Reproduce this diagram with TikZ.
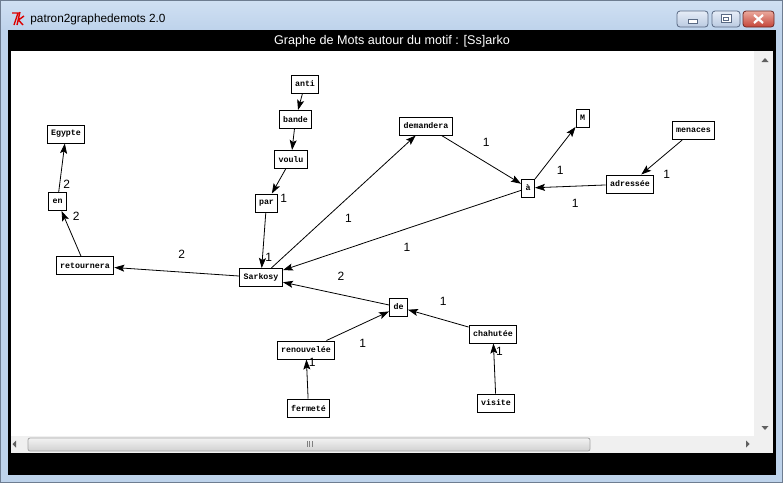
\documentclass[tikz,border=0pt]{standalone}
\usepackage{fontspec}
\setmainfont{Liberation Sans}
\newfontfamily\motfont{Liberation Mono}
\usetikzlibrary{arrows.meta}

\definecolor{cadre}{RGB}{190,211,235}
\definecolor{cadrehaut}{RGB}{208,224,243}
\definecolor{cadrebord}{RGB}{110,125,145}
\definecolor{barre}{RGB}{240,240,240}
\definecolor{flechebarre}{RGB}{96,96,96}
\definecolor{boutonhaut}{RGB}{230,237,247}
\definecolor{boutonbas}{RGB}{186,202,225}
\definecolor{boutonbord}{RGB}{90,106,132}
\definecolor{fermerhaut}{RGB}{235,170,158}
\definecolor{fermerbas}{RGB}{196,68,56}
\definecolor{fermerbord}{RGB}{110,40,36}
\definecolor{tkrouge}{RGB}{220,0,0}

\begin{document}
\begin{tikzpicture}
    [x=1pt, y=-1pt, >={Stealth[length=10pt, width=7pt, inset=2pt]}, line width=0.8pt,
     mot/.style={shape=rectangle, draw=black, fill=white, line width=1pt,
                 font=\motfont\bfseries\fontsize{8.3}{10}\selectfont,
                 inner xsep=4pt, inner ysep=0pt, minimum height=18pt},
     poids/.style={font=\fontsize{12}{14}\selectfont, inner sep=0pt},
     haut/.style={poids, xshift=5pt, yshift=17pt},
     bas/.style={poids, xshift=5pt, yshift=-17pt}]
    \useasboundingbox (0,0) rectangle (783,483);

    % fenetre
    \fill[cadre] (0,0) rectangle (783,483);
    \shade[top color=cadrehaut, bottom color=cadre] (0,0) rectangle (783,30);
    \draw[cadrebord, line width=1pt] (0.5,0.5) rectangle (782.5,482.5);
    \fill[black] (8,30) rectangle (776,475);
    \fill[barre] (11,51) rectangle (773,453);
    \fill[white] (11,51) rectangle (754,436);

    % barre de titre
    \draw[tkrouge, line width=1.4pt] (12,13) -- (18,13) -- (14,25)
        (20,12) -- (17,25) (24,16) -- (18.5,20) -- (23,25);
    \node[anchor=west, font=\fontsize{11.8}{14}\selectfont, inner sep=0pt] (titre) at (30,19) {patron2graphedemots 2.0};
    \draw[boutonbord, top color=boutonhaut, bottom color=boutonbas, rounded corners=3pt] (677,11) rectangle (708,27);
    \draw[boutonbord, fill=white] (688,19.5) rectangle (697,23);
    \draw[boutonbord, top color=boutonhaut, bottom color=boutonbas, rounded corners=3pt] (712,11) rectangle (740,27);
    \draw[boutonbord, fill=white] (721,14.5) rectangle (731,22.5);
    \draw[boutonbord] (723.5,17.5) rectangle (728.5,20);
    \draw[fermerbord, top color=fermerhaut, bottom color=fermerbas, rounded corners=3pt] (743,11) rectangle (774,27);
    \draw[white, line width=2.2pt] (754,15) -- (763,23) (763,15) -- (754,23);

    \node[text=white, font=\fontsize{12.6}{15}\selectfont, inner sep=0pt] (entete) at (392,41) {Graphe de Mots autour du motif : [Ss]arko};

    % barres de defilement
    \fill[flechebarre] (761.5,62) -- (768.5,62) -- (765,58) -- cycle;
    \fill[flechebarre] (761.5,426) -- (768.5,426) -- (765,430) -- cycle;
    \fill[flechebarre] (16,440.5) -- (16,447.5) -- (12.5,444) -- cycle;
    \fill[flechebarre] (746,440.5) -- (746,447.5) -- (749.5,444) -- cycle;
    \draw[gray!70, top color=white!95!black, bottom color=white!82!black, rounded corners=2pt] (28,438) rectangle (590,451);
    \draw[gray] (307,441) -- (307,447) (309.5,441) -- (309.5,447) (312,441) -- (312,447);

    % mots
    \node[mot] (anti) at (305,84) {anti};
    \node[mot] (bande) at (295.5,119.5) {bande};
    \node[mot] (voulu) at (291,159.5) {voulu};
    \node[mot] (par) at (266.5,203) {par};
    \node[mot] (sarkosy) at (261,277.5) {Sarkosy};
    \node[mot] (retournera) at (85,265.5) {retournera};
    \node[mot] (en) at (57.5,201.5) {en};
    \node[mot] (egypte) at (66,134) {Egypte};
    \node[mot] (demandera) at (426,126) {demandera};
    \node[mot] (a) at (528,188) {à};
    \node[mot] (m) at (582.5,118) {M};
    \node[mot] (menaces) at (693.5,130.5) {menaces};
    \node[mot] (adressee) at (630,184) {adressée};
    \node[mot] (de) at (398.5,307) {de};
    \node[mot] (chahutee) at (493,334) {chahutée};
    \node[mot] (renouvelee) at (306,350) {renouvelée};
    \node[mot] (fermete) at (308.5,408) {fermeté};
    \node[mot] (visite) at (496,403) {visite};

    \path [->] (anti) edge (bande);
    \path [->] (bande) edge (voulu);
    \path [->] (voulu) edge node[bas] {1} (par);
    \path [->] (par) edge node[bas] {1} (sarkosy);
    \path [->] (sarkosy) edge node[haut] {2} (retournera);
    \path [->] (retournera) edge node[haut] {2} (en);
    \path [->] (en) edge node[bas] {2} (egypte);
    \path [->] (sarkosy) edge node[bas] {1} (demandera);
    \path [->] (demandera) edge node[haut] {1} (a);
    \path [->] (a) edge node[bas] {1} (m);
    \path [->] (menaces) edge node[bas] {1} (adressee);
    \path [->] (adressee) edge node[bas] {1} (a);
    \path [->] (a) edge node[bas] {1} (sarkosy);
    \path [->] (de) edge node[haut] {2} (sarkosy);
    \path [->] (chahutee) edge node[haut] {1} (de);
    \path [->] (renouvelee) edge node[bas] {1} (de);
    \path [->] (fermete) edge node[haut] {1} (renouvelee);
    \path [->] (visite) edge node[haut] {1} (chahutee);
\end{tikzpicture}
\end{document}
